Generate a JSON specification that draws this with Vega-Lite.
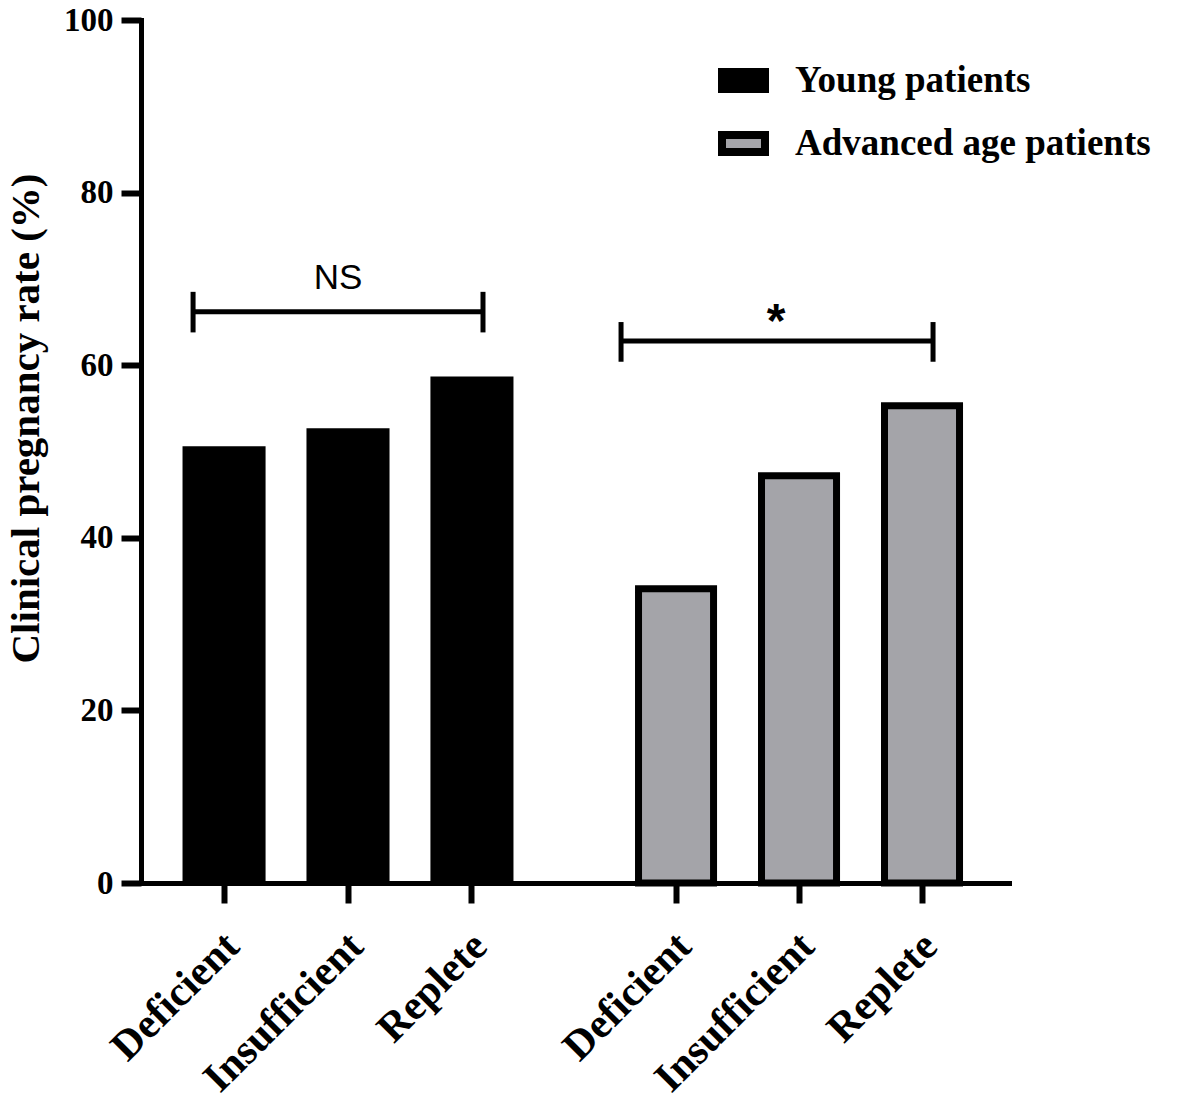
{
  "$schema": "https://vega.github.io/schema/vega-lite/v6.json",
  "autosize": {"type": "pad"},
  "padding": {"left": 5, "top": 4, "right": 0, "bottom": 0},
  "background": "white",
  "config": {
    "view": {"stroke": null},
    "concat": {"spacing": 0},
    "axis": {"grid": false, "domainColor": "black", "tickColor": "black", "labelColor": "black", "titleColor": "black", "domainCap": "square"}
  },
  "datasets": {
    "bars": [
      {"group": "Young patients", "level": "Deficient", "rate": 50.6},
      {"group": "Young patients", "level": "Insufficient", "rate": 52.7},
      {"group": "Young patients", "level": "Replete", "rate": 58.7},
      {"group": "Advanced age patients", "level": "Deficient", "rate": 34.1},
      {"group": "Advanced age patients", "level": "Insufficient", "rate": 47.2},
      {"group": "Advanced age patients", "level": "Replete", "rate": 55.3}
    ],
    "brackets": [
      {"group": "Young patients", "from": "Deficient", "to": "Replete", "mid": "Insufficient", "y": 66.2, "ylo": 63.8, "yhi": 68.5, "label": "NS", "ly": 68.8},
      {"group": "Advanced age patients", "from": "Deficient", "to": "Replete", "mid": "Insufficient", "y": 62.8, "ylo": 60.4, "yhi": 65.0, "label": "*", "ly": 63.3}
    ]
  },
  "resolve": {"scale": {"color": "shared", "y": "shared"}, "legend": {"color": "shared"}},
  "hconcat": [
    {
      "width": 414,
      "height": 863,
      "layer": [
        {
          "data": {"name": "bars"},
          "transform": [{"filter": "datum.group === 'Young patients'"}],
          "mark": {"type": "bar"},
          "encoding": {
            "x": {
              "field": "level", "type": "nominal",
              "scale": {"domain": ["Deficient", "Insufficient", "Replete"], "paddingInner": 0.33, "paddingOuter": 0.335},
              "axis": {"title": null, "labelAngle": -45, "labelFont": "Liberation Serif", "labelFontWeight": "bold", "labelFontSize": 42, "labelPadding": 22, "labelOffset": -6, "labelLimit": 600, "tickSize": 20, "tickWidth": 6, "domainWidth": 5}
            },
            "y": {
              "field": "rate", "type": "quantitative",
              "scale": {"domain": [0, 100], "nice": false},
              "axis": {"title": "Clinical pregnancy rate (%)", "values": [0, 20, 40, 60, 80, 100], "labelFont": "Liberation Serif", "labelFontWeight": "bold", "labelFontSize": 33, "labelPadding": 8, "tickSize": 20, "tickWidth": 6, "domainWidth": 5, "titleFont": "Liberation Serif", "titleFontWeight": "bold", "titleFontSize": 41, "titlePadding": 16, "titleY": 398}
            },
            "color": {
              "field": "group", "type": "nominal",
              "scale": {"domain": ["Young patients", "Advanced age patients"], "range": ["#000000", "#a4a4a9"]},
              "legend": {"title": null, "orient": "none", "legendX": 577, "legendY": 35, "padding": 0, "symbolType": "M-1,-0.395H1V0.395H-1Z", "symbolSize": 1849, "symbolStrokeColor": "black", "symbolStrokeWidth": 8, "symbolOpacity": 1, "labelFont": "Liberation Serif", "labelFontWeight": "bold", "labelFontSize": 37, "labelColor": "black", "labelOffset": 26, "rowPadding": 13, "labelLimit": 600}
            }
          }
        },
        {
          "data": {"name": "brackets"},
          "transform": [{"filter": "datum.group === 'Young patients'"}],
          "mark": {"type": "rule", "strokeWidth": 5, "color": "black"},
          "encoding": {
            "x": {"field": "from", "type": "nominal", "bandPosition": 0.127},
            "x2": {"field": "to", "bandPosition": 0.633},
            "y": {"field": "y", "type": "quantitative"}
          }
        },
        {
          "data": {"name": "brackets"},
          "transform": [{"filter": "datum.group === 'Young patients'"}],
          "mark": {"type": "rule", "strokeWidth": 5, "color": "black"},
          "encoding": {
            "x": {"field": "from", "type": "nominal", "bandPosition": 0.127},
            "y": {"field": "ylo", "type": "quantitative"},
            "y2": {"field": "yhi"}
          }
        },
        {
          "data": {"name": "brackets"},
          "transform": [{"filter": "datum.group === 'Young patients'"}],
          "mark": {"type": "rule", "strokeWidth": 5, "color": "black"},
          "encoding": {
            "x": {"field": "to", "type": "nominal", "bandPosition": 0.633},
            "y": {"field": "ylo", "type": "quantitative"},
            "y2": {"field": "yhi"}
          }
        },
        {
          "data": {"name": "brackets"},
          "transform": [{"filter": "datum.group === 'Young patients'"}],
          "mark": {"type": "text", "font": "Liberation Sans", "fontSize": 35, "baseline": "alphabetic", "align": "center", "color": "black"},
          "encoding": {
            "x": {"field": "mid", "type": "nominal", "bandPosition": 0.38},
            "y": {"field": "ly", "type": "quantitative"},
            "text": {"field": "label"}
          }
        }
      ]
    },
    {
      "width": 454,
      "height": 863,
      "layer": [
        {
          "data": {"name": "bars"},
          "transform": [{"filter": "datum.group === 'Advanced age patients'"}],
          "mark": {"type": "bar", "stroke": "black", "strokeWidth": 7},
          "encoding": {
            "x": {
              "field": "level", "type": "nominal",
              "scale": {"domain": ["Deficient", "Insufficient", "Replete"], "paddingInner": 0.39, "paddingOuter": 0.5407, "align": 0.628},
              "axis": {"title": null, "labelAngle": -45, "labelFont": "Liberation Serif", "labelFontWeight": "bold", "labelFontSize": 42, "labelPadding": 22, "labelOffset": -6, "labelLimit": 600, "tickSize": 20, "tickWidth": 6, "domainWidth": 5}
            },
            "y": {
              "field": "rate", "type": "quantitative",
              "scale": {"domain": [0, 100], "nice": false},
              "axis": null
            },
            "color": {
              "field": "group", "type": "nominal",
              "scale": {"domain": ["Young patients", "Advanced age patients"], "range": ["#000000", "#a4a4a9"]}
            }
          }
        },
        {
          "data": {"name": "brackets"},
          "transform": [{"filter": "datum.group === 'Advanced age patients'"}],
          "mark": {"type": "rule", "strokeWidth": 5, "color": "black"},
          "encoding": {
            "x": {"field": "from", "type": "nominal", "bandPosition": -0.233},
            "x2": {"field": "to", "bandPosition": 0.647},
            "y": {"field": "y", "type": "quantitative"}
          }
        },
        {
          "data": {"name": "brackets"},
          "transform": [{"filter": "datum.group === 'Advanced age patients'"}],
          "mark": {"type": "rule", "strokeWidth": 5, "color": "black"},
          "encoding": {
            "x": {"field": "from", "type": "nominal", "bandPosition": -0.233},
            "y": {"field": "ylo", "type": "quantitative"},
            "y2": {"field": "yhi"}
          }
        },
        {
          "data": {"name": "brackets"},
          "transform": [{"filter": "datum.group === 'Advanced age patients'"}],
          "mark": {"type": "rule", "strokeWidth": 5, "color": "black"},
          "encoding": {
            "x": {"field": "to", "type": "nominal", "bandPosition": 0.647},
            "y": {"field": "ylo", "type": "quantitative"},
            "y2": {"field": "yhi"}
          }
        },
        {
          "data": {"name": "brackets"},
          "transform": [{"filter": "datum.group === 'Advanced age patients'"}],
          "mark": {"type": "text", "font": "Liberation Sans", "fontWeight": "bold", "fontSize": 48, "baseline": "alphabetic", "align": "center", "color": "black"},
          "encoding": {
            "x": {"field": "mid", "type": "nominal", "bandPosition": 0.193},
            "y": {"field": "ly", "type": "quantitative"},
            "text": {"field": "label"}
          }
        }
      ]
    }
  ]
}
